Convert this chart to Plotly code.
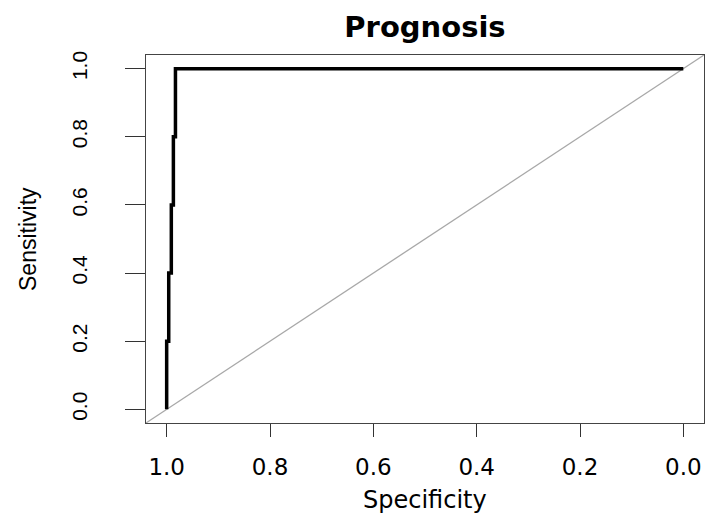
import plotly.graph_objects as go

# ROC curve points
specificity = [1.0, 1.0, 0.996, 0.996, 0.991, 0.991, 0.987, 0.987, 0.983, 0.983, 0.0]
sensitivity = [0.0, 0.2, 0.2, 0.4, 0.4, 0.6, 0.6, 0.8, 0.8, 1.0, 1.0]

tick_vals = [0.0, 0.2, 0.4, 0.6, 0.8, 1.0]
tick_text = ["0.0", "0.2", "0.4", "0.6", "0.8", "1.0"]

title_text = "Prognosis"
x_title = "Specificity"
y_title = "Sensitivity"

fig = go.Figure()

fig.add_trace(go.Scatter(
    x=specificity, y=sensitivity, mode="lines",
    line=dict(color="black", width=3.5, shape="linear"),
    showlegend=False, hoverinfo="skip",
))

# identity reference line through the plot corners (abline(1,-1))
fig.add_shape(type="line", xref="x domain", yref="y domain",
              x0=0, y0=0, x1=1, y1=1,
              line=dict(color="#a8a8a8", width=1.3), layer="below")

fig.update_layout(
    width=705, height=516,
    margin=dict(l=146, r=1, t=55, b=93),
    paper_bgcolor="white", plot_bgcolor="white",
    title=dict(text="<b>" + title_text + "</b>", x=0.5, xref="paper", xanchor="center",
               y=1 - 27 / 516, yref="container", yanchor="middle",
               font=dict(family="DejaVu Sans", size=29, color="black")),
    xaxis=dict(range=[1.04, -0.04], tickvals=tick_vals, ticktext=tick_text,
               showgrid=False, zeroline=False, showline=True, mirror=True,
               linecolor="#444444", linewidth=1.2,
               ticks="outside", ticklen=13, tickwidth=1.2, tickcolor="#333333",
               ticklabelstandoff=10,
               tickfont=dict(family="DejaVu Sans", size=23, color="black")),
    yaxis=dict(range=[-0.04, 1.04], tickvals=tick_vals, ticktext=tick_text,
               showgrid=False, zeroline=False, showline=True, mirror=True,
               linecolor="#444444", linewidth=1.2,
               ticks="outside", ticklen=20, tickwidth=1.2, tickcolor="#333333",
               tickangle=-90, ticklabelstandoff=30,
               tickfont=dict(family="Liberation Sans", size=21, color="black")),
    annotations=[
        dict(text=x_title, xref="paper", yref="paper", x=0.5, y=0,
             xanchor="center", yanchor="middle", yshift=-77, showarrow=False,
             font=dict(family="DejaVu Sans", size=24, color="black")),
        dict(text=y_title, xref="paper", yref="paper", x=0, y=0.5,
             xanchor="center", yanchor="middle", xshift=-118, textangle=-90,
             showarrow=False,
             font=dict(family="Liberation Sans", size=23, color="black")),
    ],
)

fig.write_html("out.html", config={"displayModeBar": False},
               post_script="document.body.style.margin='0';document.body.style.overflow='hidden';")
